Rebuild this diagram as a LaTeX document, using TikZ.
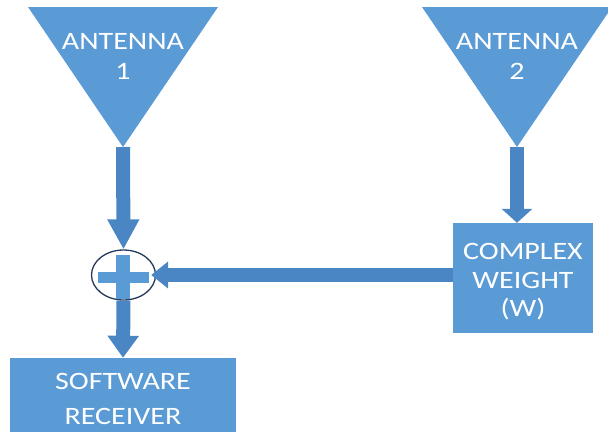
\documentclass[tikz,border=0pt]{standalone}
\usepackage{fontspec}
\setmainfont{Carlito}
\usepackage{xcolor}
\usepackage{tikz}
\usetikzlibrary{positioning, arrows.meta, shapes.geometric}

\definecolor{boxblue}{HTML}{5B9BD5}
\definecolor{arrblue}{HTML}{4A86C4}
\definecolor{rimblue}{HTML}{23395B}

\begin{document}
\begin{tikzpicture}[
  x=1pt, y=-1pt,
  label/.style={text=white, align=center, font=\fontsize{25}{30}\selectfont, xscale=1.2, transform shape},
  block/.style={rectangle, fill=boxblue, inner sep=0pt},
  fatarr/.style={draw=arrblue, line width=14pt, -{Triangle[length=#1, width=30pt]}},
  fatarr/.default=22pt,
]
\useasboundingbox (0,0) rectangle (608,434);
% antennas
\fill[boxblue] (28,7) -- (218,7) -- (123,147) -- cycle;
\coordinate (a1) at (123,147);
\node[label] (t1) at (123,56) {ANTENNA\\1};
\fill[boxblue] (422,7) -- (612,7) -- (517,147) -- cycle;
\coordinate (a2) at (517,147);
\node[label] (t2) at (517,56) {ANTENNA\\2};
% blocks
\node[block, minimum width=140pt, minimum height=110pt] (cw) at (523,278) {};
\node[label, font=\fontsize{25}{28.5}\selectfont] (cwt) at (523,282) {COMPLEX\\WEIGHT\\(W)};
\node[block, minimum width=226pt, minimum height=74pt] (rx) at (123,395) {};
\node[label, font=\fontsize{25}{35}\selectfont] (rxt) at (123,399) {SOFTWARE\\RECEIVER};
% summer
\node[ellipse, draw=rimblue, line width=1.3pt, minimum width=64pt, minimum height=50pt, inner sep=0pt] (sum) at (123.5,275) {};
% connectors
\draw[fatarr=30pt] (a1) -- (sum.north);
\draw[fatarr=14pt] (a2) -- (a2 |- cw.north);
\draw[fatarr=17pt, -{Triangle[length=17pt, width=26pt]}, shorten >=-5pt] (cw.west |- sum) -- (sum.east);
\draw[fatarr] (sum.south) -- (rx.north);
% plus sign
\fill[boxblue] (116,255) rectangle (130,299);
\fill[boxblue] (98,272) rectangle (149,283);
\end{tikzpicture}
\end{document}
